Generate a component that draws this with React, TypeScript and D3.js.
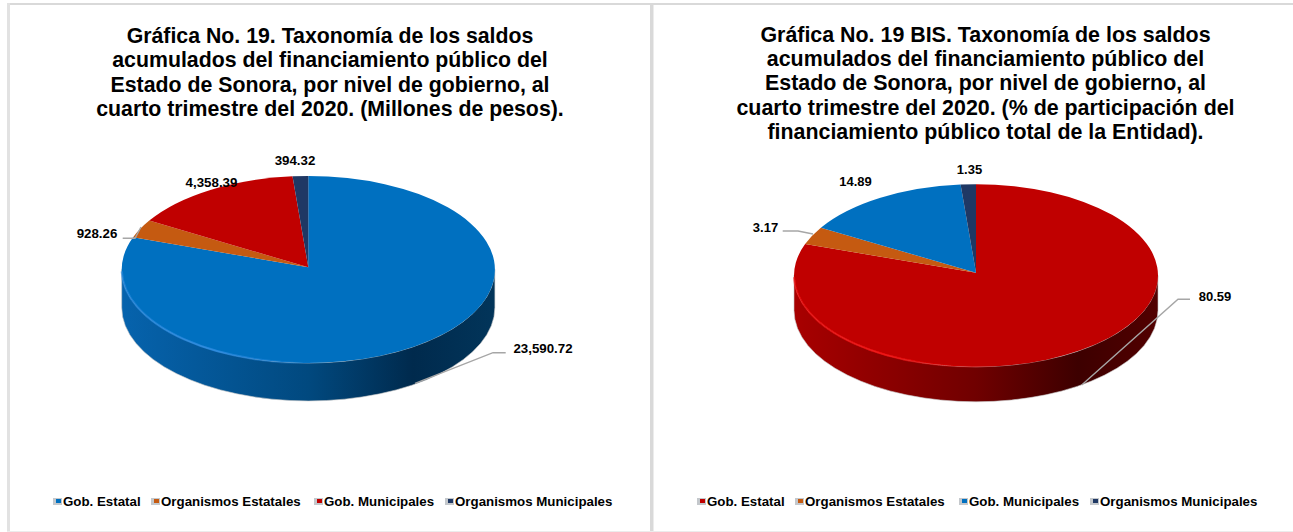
import React from "react";
import * as d3 from "d3";

const categories = ["Gob. Estatal", "Organismos Estatales", "Gob. Municipales", "Organismos Municipales"];
const leftValues = [23590.72, 928.26, 4358.39, 394.32];
const rightValues = [80.59, 3.17, 14.89, 1.35];
const leftLabels = ["23,590.72", "928.26", "4,358.39", "394.32"];
const rightLabels = ["80.59", "3.17", "14.89", "1.35"];
const leftColors = ["#0070C0", "#C55A11", "#C00000", "#1F3864"];
const rightColors = ["#C00000", "#C55A11", "#0070C0", "#1F3864"];
const leftTitle = [
  "Gráfica No. 19. Taxonomía de los saldos",
  "acumulados del financiamiento público del",
  "Estado de Sonora, por nivel de gobierno, al",
  "cuarto trimestre del 2020. (Millones de pesos).",
];
const rightTitle = [
  "Gráfica No. 19 BIS. Taxonomía de los saldos",
  "acumulados del financiamiento público del",
  "Estado de Sonora, por nivel de gobierno, al",
  "cuarto trimestre del 2020. (% de participación del",
  "financiamiento público total de la Entidad).",
];
const leftSide = ["#0663ad", "#01497f", "#002a4d", "#02355a"];
const rightSide = ["#a80000", "#700000", "#3d0000", "#520000"];

const FONT = "'Liberation Sans', Arial, sans-serif";

type PieProps = {
  id: string; values: number[]; labels: string[]; colors: string[]; side: string[]; rim: string; labelSize: number;
  cx: number; cy: number; rx: number; ry: number; depth: number; apexY: number;
  labelPos: [number, number][]; leaders: ([number, number][] | null)[];
};

function Pie3D(p: PieProps) {
  const arcs = d3.pie<number>().sort(null).startAngle(0).endAngle(2 * Math.PI)(p.values);
  const pt = (a: number, dy = 0): [number, number] => [p.cx + p.rx * Math.sin(a), p.cy - p.ry * Math.cos(a) + dy];
  const wall = `M${p.cx - p.rx},${p.cy} A${p.rx},${p.ry} 0 0 0 ${p.cx + p.rx},${p.cy} L${p.cx + p.rx},${p.cy + p.depth} A${p.rx},${p.ry} 0 0 1 ${p.cx - p.rx},${p.cy + p.depth} Z`;
  const rimA = pt(Math.PI * 1.5 - 0.02);
  const rimB = pt(Math.PI * 0.97);
  const line = d3.line();
  return (
    <g>
      <defs>
        <linearGradient id={`${p.id}-side`} x1="0" x2="1" y1="0" y2="0">
          <stop offset="0" stopColor={p.side[0]} />
          <stop offset="0.5" stopColor={p.side[1]} />
          <stop offset="0.78" stopColor={p.side[2]} />
          <stop offset="1" stopColor={p.side[3]} />
        </linearGradient>
        <linearGradient id={`${p.id}-rim`} x1="0" x2="1" y1="0" y2="0">
          <stop offset="0" stopColor={p.rim} stopOpacity="0.6" />
          <stop offset="0.45" stopColor={p.rim} stopOpacity="0.9" />
          <stop offset="1" stopColor={p.rim} stopOpacity="0" />
        </linearGradient>
        <filter id={`${p.id}-blur`} x="-5%" y="-5%" width="110%" height="110%">
          <feGaussianBlur stdDeviation="0.7" />
        </filter>
      </defs>
      <path d={wall} fill={`url(#${p.id}-side)`} stroke="#c8c8c8" strokeWidth={0.6} />
      {arcs.map((a, i) => {
        const s = pt(a.startAngle);
        const e = pt(a.endAngle);
        const large = a.endAngle - a.startAngle > Math.PI ? 1 : 0;
        return (
          <path key={i} d={`M${p.cx},${p.apexY} L${s[0]},${s[1]} A${p.rx},${p.ry} 0 ${large} 1 ${e[0]},${e[1]} Z`} fill={p.colors[i]} />
        );
      })}
      <path
        d={`M${rimA[0]},${rimA[1]} A${p.rx},${p.ry} 0 0 0 ${rimB[0]},${rimB[1]}`}
        fill="none" stroke={`url(#${p.id}-rim)`} strokeWidth={2.2} filter={`url(#${p.id}-blur)`}
      />
      {p.leaders.map((l, i) =>
        l ? <path key={i} d={line(l) ?? ""} fill="none" stroke="#a6a6a6" strokeWidth={1.4} /> : null
      )}
      {p.labels.map((t, i) => (
        <text key={i} x={p.labelPos[i][0]} y={p.labelPos[i][1]} textAnchor="middle" fontFamily={FONT} fontWeight="bold" fontSize={p.labelSize} fill="#000">{t}</text>
      ))}
    </g>
  );
}

function Title({ lines, cx, y0, dy, size }: { lines: string[]; cx: number; y0: number; dy: number; size: number }) {
  return (
    <text textAnchor="middle" fontFamily={FONT} fontWeight="bold" fontSize={size} fill="#000">
      {lines.map((l, i) => <tspan key={i} x={cx} y={y0 + i * dy}>{l}</tspan>)}
    </text>
  );
}

function Legend({ colors, xs, y }: { colors: string[]; xs: number[]; y: number }) {
  return (
    <g>
      {categories.map((c, i) => (
        <g key={c}>
          <rect x={xs[i] - 10} y={y - 8} width={9} height={7} fill="#c4c8cc" />
          <rect x={xs[i] - 7} y={y - 7} width={5} height={4} fill={colors[i]} />
          <text x={xs[i]} y={y} fontFamily={FONT} fontWeight="bold" fontSize={13.3} fill="#000">{c}</text>
        </g>
      ))}
    </g>
  );
}

export default function App() {
  return (
    <svg width={1293} height={532} style={{ position: "absolute", left: 0, top: 0, display: "block" }}>
      <rect width={1293} height={532} fill="#fff" />
      <rect x={7} y={3} width={1286} height={2} fill="#d9d9d9" />
      <rect x={7} y={3} width={3} height={529} fill="#e2e2e2" />
      <rect x={650} y={4} width={3.5} height={528} fill="#d9d9d9" />
      <rect x={7} y={531} width={1286} height={1} fill="#ececec" />
      <Title lines={leftTitle} cx={330} y0={43} dy={24.4} size={21.3} />
      <Title lines={rightTitle} cx={985.5} y0={41.5} dy={24.4} size={21.4} />
      <Pie3D id="l" values={leftValues} labels={leftLabels} colors={leftColors} side={leftSide} rim="#2a8ae0" labelSize={13.3}
        cx={308.3} cy={269.5} rx={186.6} ry={93.5} depth={38} apexY={267.3}
        labelPos={[[543, 353], [97, 238], [211.5, 186.5], [295, 165]]}
        leaders={[[[415, 383.3], [493, 352.7], [505.7, 352.7]], [[122.7, 238.3], [135, 238.3], [141, 227]], null, null]} />
      <Pie3D id="r" values={rightValues} labels={rightLabels} colors={rightColors} side={rightSide} rim="#f01010" labelSize={13}
        cx={976} cy={275.5} rx={182} ry={91.3} depth={35} apexY={272.7}
        labelPos={[[1215, 300.5], [765.5, 232], [855.5, 186], [969.5, 174]]}
        leaders={[[[1081.7, 385], [1178, 299.3], [1190, 299.3]], [[782.7, 231], [798, 231], [813, 234]], null, null]} />
      <Legend colors={leftColors} xs={[63, 161, 324, 455]} y={506} />
      <Legend colors={rightColors} xs={[707, 805, 969, 1100]} y={506} />
    </svg>
  );
}
